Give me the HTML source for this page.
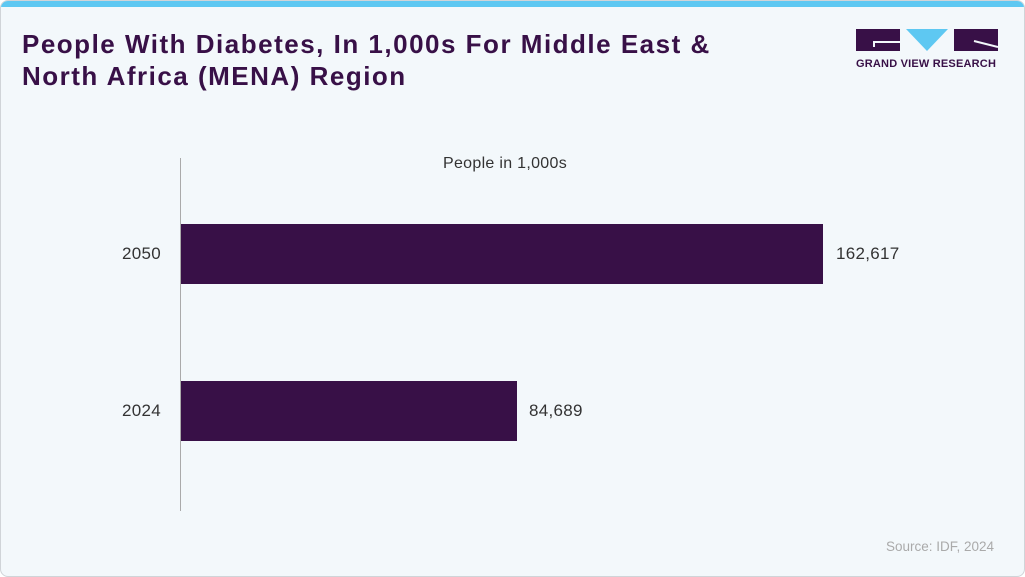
<!DOCTYPE html>
<html><head><style>
body{margin:0;width:1025px;height:577px;overflow:hidden;background:#fff;font-family:"Liberation Sans",sans-serif;}
.card{position:absolute;left:0;top:0;width:1023px;height:575px;border:1px solid #d0d4d8;border-radius:8px;background:#f3f8fb;overflow:hidden;}
.bar-top{position:absolute;left:0;top:0;width:100%;height:6px;background:#5ec8f2;}
.title{position:absolute;left:21px;top:27px;font-size:26px;font-weight:bold;color:#381047;line-height:32px;letter-spacing:1.5px;white-space:nowrap;}
.t{position:absolute;color:#333;font-size:17px;letter-spacing:0.3px;}
</style></head><body>
<div class="card">
<div class="bar-top"></div>
<div class="title">People With Diabetes, In 1,000s For Middle East &amp;<br>North Africa (MENA) Region</div>
<svg style="position:absolute;left:855px;top:28px" width="142" height="24">
<rect x="0" y="0" width="44" height="22" fill="#381047"/>
<rect x="19" y="12" width="25" height="2" fill="#f3f8fb"/>
<rect x="17" y="12" width="2" height="6" fill="#f3f8fb"/>
<polygon points="50,0 92,0 71,22" fill="#5ec8f2"/>
<rect x="98" y="0" width="44" height="22" fill="#381047"/>
<line x1="118" y1="12" x2="142" y2="18" stroke="#f3f8fb" stroke-width="2"/>
</svg>
<div style="position:absolute;left:855px;top:57px;font-size:11px;font-weight:bold;color:#381047;letter-spacing:0.2px">GRAND VIEW RESEARCH</div>
<div style="position:absolute;left:179px;top:157px;width:1px;height:353px;background:#aaa"></div>
<div class="t" style="left:442px;top:154px;font-size:16px">People in 1,000s</div>
<div style="position:absolute;left:180px;top:223px;width:642px;height:60px;background:#381047"></div>
<div style="position:absolute;left:180px;top:380px;width:336px;height:60px;background:#381047"></div>
<div class="t" style="left:121px;top:243px">2050</div>
<div class="t" style="left:121px;top:400px">2024</div>
<div class="t" style="left:835px;top:243px">162,617</div>
<div class="t" style="left:528px;top:400px">84,689</div>
<div style="position:absolute;left:885px;top:538px;font-size:13.5px;color:#aaa">Source: IDF, 2024</div>
</div>
</body></html>
